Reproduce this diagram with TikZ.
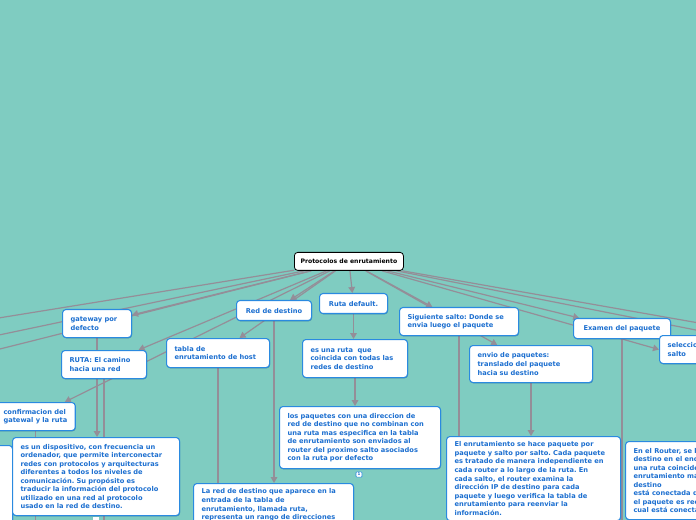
\documentclass[tikz,border=0pt]{standalone}
\usepackage{fontspec}
\newfontfamily\mmfont{DejaVu Sans}
\usetikzlibrary{arrows.meta,shadows,positioning}
\frenchspacing

\definecolor{mmbg}{HTML}{7FCCC1}
\definecolor{mmline}{HTML}{948E98}
\definecolor{mmblue}{HTML}{2A8AE0}
\definecolor{mmtext}{HTML}{1C6FD0}

\pgfdeclarelayer{bg}
\pgfdeclarelayer{edges}
\pgfsetlayers{bg,edges,main}

\tikzset{
  topic/.style={draw=mmblue, line width=0.8pt, fill=white, rounded corners=2.5pt,
    text=mmtext, font=\mmfont\bfseries\fontsize{5}{6.4}\selectfont, align=left,
    anchor=north west, inner xsep=6pt, inner ysep=4pt,
    drop shadow={shadow xshift=0.4pt, shadow yshift=-0.6pt, fill=mmblue!60!black, opacity=0.5}},
  central/.style={draw=black, line width=0.6pt, fill=white, rounded corners=2.5pt,
    font=\mmfont\bfseries\fontsize{4.6}{6}\selectfont, anchor=north west,
    minimum width=81.75pt, minimum height=13.5pt},
  badge/.style={draw=mmblue, line width=0.4pt, fill=white, rounded corners=0.5pt,
    text=mmtext, font=\mmfont\bfseries\fontsize{3}{3}\selectfont, inner sep=0.5pt,
    minimum width=4.5pt, minimum height=3.8pt},
  link/.style={draw=mmline, line width=0.9pt},
  arr/.style={link, -{Triangle[length=4.5pt,width=5pt]}},
}

\begin{document}
\begin{tikzpicture}[x=0.75pt,y=-0.75pt]
\useasboundingbox (0,0) rectangle (696,520);
\begin{pgfonlayer}{bg}
  \fill[mmbg] (0,0) rectangle (696,520);
\end{pgfonlayer}

% centre
\node[central] (root) at (294,252) {Protocolos de enrutamiento};

% first level
\node[topic, text width=39.75pt, minimum height=21pt] (gateway) at (62,309) {gateway por\\defecto};
\node[topic, text width=51.75pt, minimum height=21pt] (ruta) at (61,350) {RUTA: El camino\\hacia una red};
\node[topic, minimum height=21pt] (confirm) at (-5,402) {confirmacion del\\gatewal y la ruta};
\node[topic, text width=65.25pt, minimum height=21.75pt] (hosttab) at (166,338) {tabla de\\enrutamiento de host};
\node[topic, minimum width=56.25pt, minimum height=15pt] (reddest) at (236,300) {Red de destino};
\node[topic, minimum width=51pt, minimum height=15pt] (rutadef) at (319,293) {Ruta default.};
\node[topic, text width=77.25pt, minimum height=21pt] (sigsalto) at (399,307) {Siguiente salto: Donde se\\envia luego el paquete};
\node[topic, text width=80.25pt, minimum height=27.75pt] (envio) at (469,345) {envio de paquetes:\\translado del paquete\\hacia su destino};
\node[topic, minimum width=72.75pt, minimum height=15pt] (examen) at (573,318) {Examen del paquete};
\node[topic, minimum height=21pt] (selec) at (659,335) {seleccion del siguiente\\salto};

% second level
\node[topic, minimum width=69pt, minimum height=67.5pt] (leftbox) at (-80,445) {};
\node[topic, text width=113.25pt, minimum height=58.5pt] (dispo) at (12,437) {es un dispositivo, con frecuencia un\\ordenador, que permite interconectar\\redes con protocolos y arquitecturas\\diferentes a todos los niveles de\\comunicación. Su propósito es\\traducir la información del protocolo\\utilizado en una red al protocolo\\usado en la red de destino.};
\node[topic, text width=66.75pt, minimum height=28.5pt] (rutaall) at (302,339) {es una ruta~ que\\coincida con todas las\\redes de destino};
\node[topic, text width=108.75pt, minimum height=46.5pt] (paquetes) at (279,406) {los paquetes con una direccion de\\red de destino que no combinan con\\una ruta mas especifica en la tabla\\de enrutamiento son enviados al\\router del proximo salto asociados\\con la ruta por defecto};
\node[topic, text width=108pt] (lared) at (193,483) {La red de destino que aparece en la\\entrada de la tabla de\\enrutamiento, llamada ruta,\\representa un rango de direcciones};
\node[topic, text width=118.5pt, minimum height=62.25pt] (enrut) at (446,436) {El enrutamiento se hace paquete por\\paquete y salto por salto. Cada paquete\\es tratado de manera independiente en\\cada router a lo largo de la ruta. En\\cada salto, el router examina la\\dirección IP de destino para cada\\paquete y luego verifica la tabla de\\enrutamiento para reenviar la\\información.};
\node[topic, minimum height=58.5pt] (router) at (625,441) {En el Router, se busca la red de\\destino en el encabezado y\\una ruta coincidente en la tabla de\\enrutamiento más específica\\destino\\está conectada directamente,\\el paquete es reenviado a la red a la\\cual está conectado};

% badges
\node[badge] (note) at (359,474.5) {1};
\node[fill=white, inner sep=0pt, minimum width=5pt, minimum height=4pt] (dispobadge) at (96,520) {};

% loose ends
\coordinate (offA) at (-20,321);
\coordinate (offB) at (-20,339);
\coordinate (offC) at (-20,354);
\coordinate (offD) at (716,326);
\coordinate (offE) at (716,334);
\coordinate (bottom) at (0,540);

\begin{pgfonlayer}{edges}
  \draw[link] (root) -- (offA);
  \draw[link] (root) -- (offB);
  \draw[link] (root) -- (offC);
  \draw[arr] (root) -- (gateway);
  \draw[arr] (root) -- (ruta);
  \draw[arr] (root) -- (confirm);
  \draw[arr] (root) -- (hosttab);
  \draw[arr] (root) -- (reddest);
  \draw[arr] (root) -- (rutadef);
  \draw[arr] (root) -- (sigsalto);
  \draw[arr] (root) -- (envio);
  \draw[arr] (root) -- (examen);
  \draw[arr] (root) -- (selec.west);
  \draw[link] (root) -- (offD);
  \draw[link] (root) -- (offE);
  % down from the topics
  \draw[arr] (gateway.south) -- (gateway.south |- dispo.north);
  \draw[link] (ruta.south) -- (ruta.south |- bottom);
  \draw[link] (confirm.south) -- (confirm.south |- bottom);
  \draw[link] (hosttab.south) -- (hosttab.south |- bottom);
  \draw[arr] (reddest.south) -- (reddest.south |- lared.north);
  \draw[arr] (rutadef.south) -- (rutadef.south |- rutaall.north);
  \draw[arr] (rutaall.south) -- (rutaall.south |- paquetes.north);
  \draw[link] (sigsalto.south) -- (sigsalto.south |- bottom);
  \draw[arr] (envio.south) -- (envio.south |- enrut.north);
  \draw[link] (examen.south) -- (examen.south |- bottom);
\end{pgfonlayer}
\end{tikzpicture}
\end{document}
